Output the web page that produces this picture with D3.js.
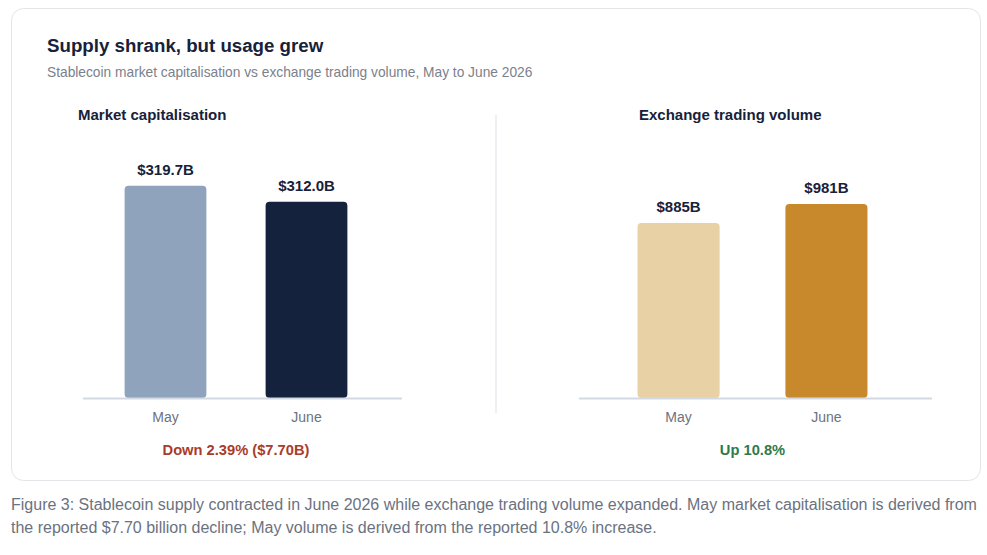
<!DOCTYPE html>
<html>
<head>
<meta charset="utf-8">
<script src="https://cdn.jsdelivr.net/npm/d3@7"></script>
<style>
  body { margin:0; background:#fff; font-family:"Liberation Sans", Arial, sans-serif; }
</style>
</head>
<body>
<svg id="svg__container" width="987" height="555"></svg>
<script>
// data
const months=["May","June"];
const capValues=[319.7, 312.0];
const capLabels=["$319.7B","$312.0B"];
const volValues=[885, 981];
const volLabels=["$885B","$981B"];
const capColors=["#8fa3bd","#14223e"];
const volColors=["#e8d1a4","#c8892c"];

const titleText="Supply shrank, but usage grew";
const subtitleText="Stablecoin market capitalisation vs exchange trading volume, May to June 2026";
const captionLines=[
    "Figure 3: Stablecoin supply contracted in June 2026 while exchange trading volume expanded. May market capitalisation is derived from",
    "the reported $7.70 billion decline; May volume is derived from the reported 10.8% increase."
];

const navy="#17213a";
const grey="#6b7280";
const font="'Liberation Sans', Arial, sans-serif";

const svg=d3.select("#svg__container");

// card
svg.append("rect")
    .attr("x",11.5).attr("y",8.5)
    .attr("width",969).attr("height",472)
    .attr("rx",12)
    .attr("fill","#fff")
    .attr("stroke","#e3e5e9");

svg.append("text")
    .attr("x",47).attr("y",51.5)
    .attr("font-family",font).attr("font-weight","bold").attr("font-size",18.7)
    .attr("fill",navy)
    .text(titleText);

svg.append("text")
    .attr("x",47).attr("y",77)
    .attr("font-family",font).attr("font-size",13.75)
    .attr("fill","#7b818c")
    .text(subtitleText);

// divider between the two panels
svg.append("line")
    .attr("x1",496).attr("x2",496)
    .attr("y1",115).attr("y2",413)
    .attr("stroke","#eeeff2").attr("stroke-width",2);

const chartTop=185, chartBottom=398;

drawPanel({
    title:"Market capitalisation", titleX:78,
    values:capValues, labels:capLabels, colors:capColors,
    domain:[218,320],
    band:[95,377], inner:0.42, outer:0.21,
    axis:[83,402],
    note:"Down 2.39% ($7.70B)", noteColor:"#a93b2b"
});
drawPanel({
    title:"Exchange trading volume", titleX:639,
    values:volValues, labels:volLabels, colors:volColors,
    domain:[0,1077],
    band:[605,900], inner:0.445, outer:0.22,
    axis:[579,932],
    note:"Up 10.8%", noteColor:"#2f7a4d"
});

function drawPanel(p) {
    const x=d3.scaleBand().domain(months).range(p.band)
        .paddingInner(p.inner).paddingOuter(p.outer);
    const y=d3.scaleLinear().domain(p.domain).range([chartBottom,chartTop]);
    const g=svg.append("g");

    g.append("text")
        .attr("x",p.titleX).attr("y",120)
        .attr("font-family",font).attr("font-weight","bold").attr("font-size",15)
        .attr("fill",navy)
        .text(p.title);

    months.forEach((m,i)=>{
        g.append("rect")
            .attr("x",x(m)).attr("y",y(p.values[i]))
            .attr("width",x.bandwidth()).attr("height",chartBottom-y(p.values[i]))
            .attr("rx",4)
            .attr("fill",p.colors[i]);

        g.append("text")
            .attr("x",x(m)+x.bandwidth()/2).attr("y",y(p.values[i])-11)
            .attr("text-anchor","middle")
            .attr("font-family",font).attr("font-weight","bold").attr("font-size",15)
            .attr("fill",navy)
            .text(p.labels[i]);

        g.append("text")
            .attr("x",x(m)+x.bandwidth()/2).attr("y",422)
            .attr("text-anchor","middle")
            .attr("font-family",font).attr("font-size",14)
            .attr("fill",grey)
            .text(m);
    });

    // baseline
    g.append("line")
        .attr("x1",p.axis[0]).attr("x2",p.axis[1])
        .attr("y1",chartBottom+0.5).attr("y2",chartBottom+0.5)
        .attr("stroke","#d3d9e3").attr("stroke-width",2);

    const mid=(x(months[0])+x(months[1])+x.bandwidth())/2;
    g.append("text")
        .attr("x",mid).attr("y",455)
        .attr("text-anchor","middle")
        .attr("font-family",font).attr("font-weight","bold").attr("font-size",14.7)
        .attr("fill",p.noteColor)
        .text(p.note);
}

// caption under the card
svg.append("text")
    .attr("font-family",font).attr("font-size",16)
    .attr("fill",grey)
    .selectAll("tspan")
    .data(captionLines)
    .join("tspan")
    .attr("x",11)
    .attr("y",(d,i)=>509.5+i*23.5)
    .text(d=>d);
</script>
</body>
</html>
